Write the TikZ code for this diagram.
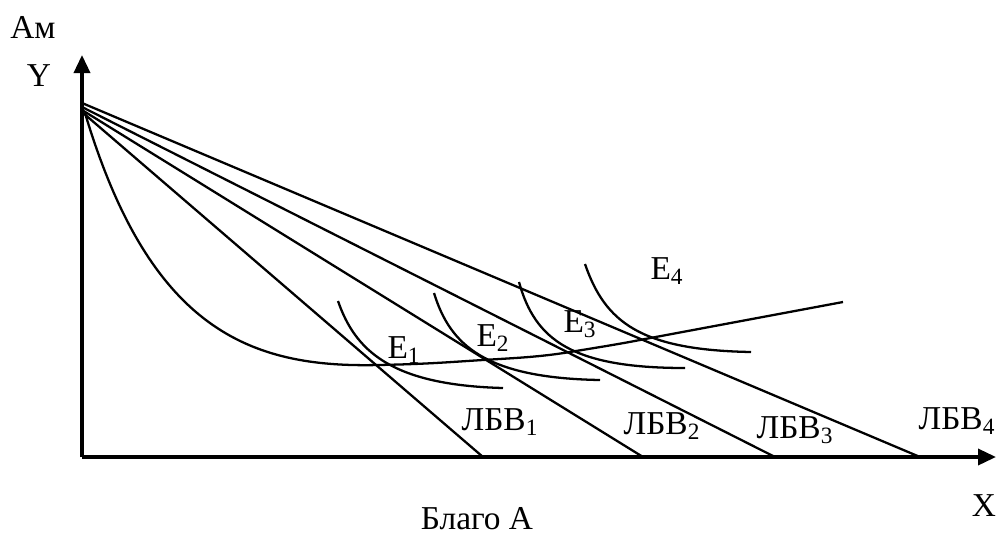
\documentclass[tikz,border=0pt]{standalone}
\usepackage{fontspec}
\setmainfont{Liberation Serif}
\usetikzlibrary{arrows.meta}
\begin{document}
\begin{tikzpicture}[x=0.02cm, y=-0.02cm, >={Triangle[length=0.36cm, width=0.32cm]},
    every node/.style={font=\fontsize{19}{22}\selectfont, inner sep=0pt},
    axis/.style={line width=2pt},
    budget/.style={line width=1.3pt},
    icurve/.style={line width=1.3pt}]
    \useasboundingbox (0,0) rectangle (996,538);
    \coordinate (O) at (82,457);
    \coordinate (ytip) at (82,55);
    \coordinate (xtip) at (996,457);
    % budget lines
    \coordinate (a1) at (82,112);
    \coordinate (a2) at (82,110);
    \coordinate (a3) at (82,107);
    \coordinate (a4) at (82,103);
    \coordinate (b1) at (483,457);
    \coordinate (b2) at (643,457);
    \coordinate (b3) at (775,457);
    \coordinate (b4) at (920,457);
    % equilibrium points
    \coordinate (e1) at (378,365);
    \coordinate (e2) at (483,360);
    \coordinate (e3) at (570,352);
    \coordinate (e4) at (645,339);
    \coordinate (c0) at (85,113);
    \coordinate (cend) at (843,302);
    \draw[axis,->] (O)--(ytip);
    \draw[axis,->] (O)--(xtip);
    \draw[budget] (a1)--(b1);
    \draw[budget] (a2)--(b2);
    \draw[budget] (a3)--(b3);
    \draw[budget] (a4)--(b4);
    % price-consumption curve
    \draw[icurve] (c0) .. controls (150,330) and (250,368) .. (e1)
        .. controls (430,364) and (450,362) .. (e2)
        .. controls (515,358) and (540,357) .. (e3)
        .. controls (600,347) and (620,344) .. (e4) -- (cend);
    % indifference curves
    \draw[icurve] (338,301) .. controls (355,350) and (390,385) .. (503,388);
    \draw[icurve] (434,293) .. controls (450,345) and (485,378) .. (600,380);
    \draw[icurve] (519,282) .. controls (535,340) and (572,368) .. (685,368);
    \draw[icurve] (585,264) .. controls (605,322) and (640,350) .. (751,352);
    % labels
    \node (lam) at (33,27) {Ам};
    \node (ly) at (39,76) {Y};
    \node (lx) at (984,506) {X};
    \node (lgood) at (477,519) {Благо А};
    \node (le1) at (404,350) {E\textsubscript{1}};
    \node (le2) at (493,338) {E\textsubscript{2}};
    \node (le3) at (580,324) {E\textsubscript{3}};
    \node (le4) at (667,271) {E\textsubscript{4}};
    \node (ll1) at (500,422) {ЛБВ\textsubscript{1}};
    \node (ll2) at (662,426) {ЛБВ\textsubscript{2}};
    \node (ll3) at (795,430) {ЛБВ\textsubscript{3}};
    \node (ll4) at (957,421) {ЛБВ\textsubscript{4}};
\end{tikzpicture}
\end{document}
